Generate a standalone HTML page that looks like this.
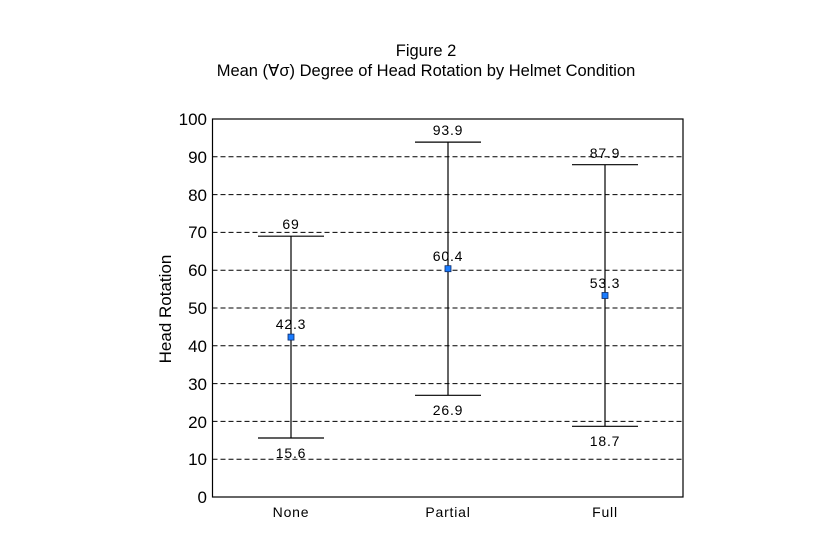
<!DOCTYPE html>
<html><head><meta charset="utf-8"><style>
html,body{margin:0;padding:0;background:#fff;}
svg{display:block;font-family:"Liberation Sans",sans-serif;}
</style></head><body>
<svg width="839" height="553" viewBox="0 0 839 553" xmlns="http://www.w3.org/2000/svg">
<rect width="839" height="553" fill="#fff"/>
<text x="426" y="56" font-size="16.5" text-anchor="middle">Figure 2</text>
<text x="426" y="76" font-size="16.5" text-anchor="middle">Mean (∀σ) Degree of Head Rotation by Helmet Condition</text>
<g stroke="#000" stroke-width="1" stroke-dasharray="5,3">
<line x1="212.5" x2="683" y1="156.8" y2="156.8"/>
<line x1="212.5" x2="683" y1="194.6" y2="194.6"/>
<line x1="212.5" x2="683" y1="232.4" y2="232.4"/>
<line x1="212.5" x2="683" y1="270.2" y2="270.2"/>
<line x1="212.5" x2="683" y1="308" y2="308"/>
<line x1="212.5" x2="683" y1="345.8" y2="345.8"/>
<line x1="212.5" x2="683" y1="383.6" y2="383.6"/>
<line x1="212.5" x2="683" y1="421.4" y2="421.4"/>
<line x1="212.5" x2="683" y1="459.2" y2="459.2"/>
</g>
<rect x="212.5" y="119" width="470.5" height="378" fill="none" stroke="#000" stroke-width="1.2"/>
<g font-size="17" text-anchor="end">
<text x="207" y="125">100</text><text x="207" y="163">90</text><text x="207" y="201">80</text>
<text x="207" y="238">70</text><text x="207" y="276">60</text><text x="207" y="314">50</text>
<text x="207" y="352">40</text><text x="207" y="390">30</text><text x="207" y="428">20</text>
<text x="207" y="465">10</text><text x="207" y="503">0</text>
</g>
<text transform="translate(171,309) rotate(-90)" font-size="17" text-anchor="middle">Head Rotation</text>
<g font-size="14" text-anchor="middle" letter-spacing="0.8">
<text x="291" y="517">None</text><text x="448" y="517">Partial</text><text x="605" y="517">Full</text>
</g>
<g stroke="#000" stroke-width="1.2">
<line x1="291" x2="291" y1="236.2" y2="438"/><line x1="258" x2="324" y1="236.2" y2="236.2"/><line x1="258" x2="324" y1="438" y2="438"/>
<line x1="448" x2="448" y1="142.1" y2="395.3"/><line x1="415" x2="481" y1="142.1" y2="142.1"/><line x1="415" x2="481" y1="395.3" y2="395.3"/>
<line x1="605" x2="605" y1="164.7" y2="426.3"/><line x1="572" x2="638" y1="164.7" y2="164.7"/><line x1="572" x2="638" y1="426.3" y2="426.3"/>
</g>
<g fill="#1a7cff" stroke="#0a2a6a" stroke-width="0.8">
<rect x="288" y="334.1" width="6" height="6"/>
<rect x="445" y="265.7" width="6" height="6"/>
<rect x="602" y="292.5" width="6" height="6"/>
</g>
<g font-size="14" text-anchor="middle" letter-spacing="0.8">
<text x="291" y="229">69</text><text x="291" y="458">15.6</text><text x="291" y="329">42.3</text>
<text x="448" y="135">93.9</text><text x="448" y="415">26.9</text><text x="448" y="261">60.4</text>
<text x="605" y="158">87.9</text><text x="605" y="446">18.7</text><text x="605" y="288">53.3</text>
</g>
</svg>
</body></html>
